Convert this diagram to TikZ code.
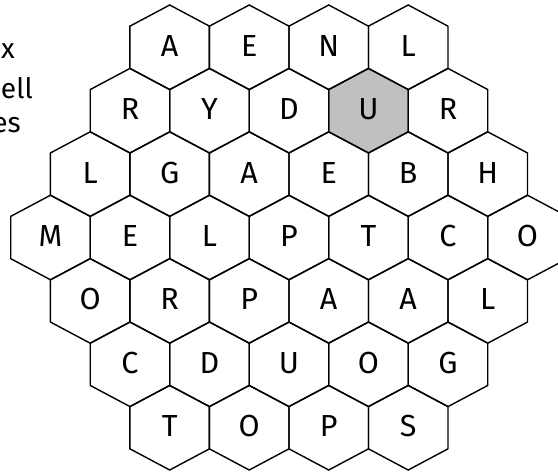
\documentclass[tikz,border=0pt]{standalone}
\usepackage{fontspec}
\setmainfont{Fira Sans}
\definecolor{pickgray}{RGB}{192, 192, 192}
\usetikzlibrary{positioning}

% one hexagon cell, pointy top, centred at (#1,#2)
\newcommand{\hexcell}[2]{(#1,#2-42.3) -- (#1+39.75,#2-21.15) -- (#1+39.75,#2+21.15)
  -- (#1,#2+42.3) -- (#1-39.75,#2+21.15) -- (#1-39.75,#2-21.15) -- cycle}

\begin{document}
\begin{tikzpicture}[x=0.03cm, y=-0.03cm,
  cell/.style={draw=black, line width=1.2pt, line join=miter},
  picked/.style={fill=pickgray},
  letter/.style={font=\fontsize{26}{30}\selectfont, inner sep=0pt},
  margin/.style={font=\fontsize{24}{28}\selectfont, anchor=base east, inner sep=0pt}
]
  \useasboundingbox (0,0) rectangle (558,472);
  \clip (0,0) rectangle (558,472);

  % shaded cell
  \fill[picked] \hexcell{368.5}{110.7};

  % the grid, row by row: row / x of first cell / letters
  \foreach \row/\xa/\letters in {
      0/169.7/{A,E,N,L},
      1/130.0/{R,Y,D,U,R},
      2/90.2/{L,G,A,E,B,H},
      3/50.5/{M,E,L,P,T,C,O},
      4/90.2/{O,R,P,A,A,L},
      5/130.0/{C,D,U,O,G},
      6/169.7/{T,O,P,S}} {
    \foreach \ch [count=\k from 0] in \letters {
      \pgfmathsetmacro{\cx}{\xa+79.5*\k}
      \pgfmathsetmacro{\cy}{47.3+63.4*\row}
      \draw[cell] \hexcell{\cx}{\cy};
      \node[letter] (c-\row-\k) at (\cx,\cy-1.5) {\ch};
    }
  }

  % cut-off text at the left edge
  \node[margin] (m1) at (15,58) {x};
  \node[margin] (m2) at (33,98) {pell};
  \node[margin] (m3) at (21,132) {es};
\end{tikzpicture}
\end{document}
